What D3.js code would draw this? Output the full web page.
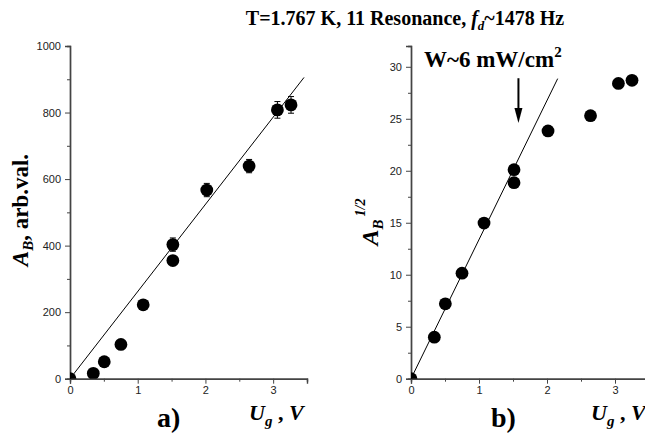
<!DOCTYPE html>
<html>
<head>
<meta charset="utf-8">
<script src="https://cdn.jsdelivr.net/npm/d3@7"></script>
<style>
  body { margin: 0; background: #fff; }
  svg { display: block; }
  .tick text { font-family: "Liberation Sans", Arial, sans-serif; font-size: 11px; fill: #222; }
  .serif { font-family: "Liberation Serif", "Times New Roman", serif; font-weight: bold; fill: #000; }
</style>
</head>
<body>
<svg id="chart" width="645" height="433"></svg>
<script>
// Panel a) : A_B vs U_g
const ugA = [0, 0.344, 0.506, 0.752, 1.081, 1.519, 1.519, 2.02, 2.645, 3.063, 3.264];
const abA = [0, 16, 51, 103, 222, 403, 355, 567, 639, 808, 823];
const errA = [5, 5, 5, 6, 8, 20, 10, 20, 20, 25, 25];
const fitA = { slope: 262, xEnd: 3.456 };

// Panel b) : A_B^(1/2) vs U_g
const ugB = [0, 0.343, 0.505, 0.75, 1.074, 1.515, 1.515, 2.015, 2.64, 3.05, 3.25];
const sqrtB = [0, 3.99, 7.2, 10.15, 14.97, 20.1, 18.85, 23.83, 25.3, 28.4, 28.7];
const fitB = { slope: 13.38, xEnd: 2.157 };
const arrowB = { x: 1.58, from: 28.9, to: 24.6 };

const xTicks = [0, 1, 2, 3];
const yTicksA = [0, 200, 400, 600, 800, 1000];
const yTicksB = [0, 5, 10, 15, 20, 25, 30];

const svg = d3.select('#chart');

function drawPanel(opts) {
    const x = d3.scaleLinear().domain([0, 3.5]).range(opts.xRange);
    const y = d3.scaleLinear().domain(opts.yDomain).range([378.7, 46]);
    const g = svg.append('g');

    // clip marks to the plot box
    const clipId = 'clip-' + opts.name;
    svg.append('clipPath').attr('id', clipId)
        .append('rect')
        .attr('x', opts.xRange[0]).attr('y', 0)
        .attr('width', opts.xRange[1] - opts.xRange[0] + 10)
        .attr('height', 378.7);

    // minor ticks
    const xAxisMinor = d3.axisBottom(x).tickValues(d3.range(0.5, 3.6, 1)).tickSize(3).tickFormat('');
    const yAxisMinor = d3.axisLeft(y).tickValues(opts.yMinor).tickSize(3).tickFormat('');
    g.append('g').attr('transform', 'translate(0,378.7)').call(xAxisMinor);
    g.append('g').attr('transform', `translate(${opts.xRange[0]},0)`).call(yAxisMinor);

    // major axes
    const xAxis = d3.axisBottom(x).tickValues(xTicks).tickSize(5).tickPadding(3).tickFormat(d3.format('d'));
    const yAxis = d3.axisLeft(y).tickValues(opts.yTicks).tickSize(5).tickPadding(4).tickFormat(d3.format('d'));
    g.append('g').attr('transform', 'translate(0,378.7)').call(xAxis);
    g.append('g').attr('transform', `translate(${opts.xRange[0]},0)`).call(yAxis);

    g.selectAll('.domain').attr('stroke', '#444').attr('stroke-width', 1.4);
    g.selectAll('.tick line').attr('stroke', '#444').attr('stroke-width', 1);

    const marks = g.append('g').attr('clip-path', `url(#${clipId})`);

    // fit line
    marks.append('line')
        .attr('x1', x(0)).attr('y1', y(0))
        .attr('x2', x(opts.fit.xEnd)).attr('y2', y(opts.fit.slope * opts.fit.xEnd))
        .attr('stroke', '#000').attr('stroke-width', 1);

    // error bars
    if (opts.err) {
        opts.xs.forEach((xv, i) => {
            const e = opts.err[i];
            const cx = x(xv);
            marks.append('line')
                .attr('x1', cx).attr('x2', cx)
                .attr('y1', y(opts.ys[i] - e)).attr('y2', y(opts.ys[i] + e))
                .attr('stroke', '#000').attr('stroke-width', 1);
            [opts.ys[i] - e, opts.ys[i] + e].forEach(v => {
                marks.append('line')
                    .attr('x1', cx - 3).attr('x2', cx + 3)
                    .attr('y1', y(v)).attr('y2', y(v))
                    .attr('stroke', '#000').attr('stroke-width', 1);
            });
        });
    }

    // points
    marks.selectAll('circle')
        .data(opts.xs.map((xv, i) => [xv, opts.ys[i]]))
        .enter()
        .append('circle')
        .attr('cx', d => x(d[0]))
        .attr('cy', d => y(d[1]))
        .attr('r', 6.4)
        .attr('fill', '#000');

    // x label "U_g , V"
    const xl = svg.append('text').attr('class', 'serif')
        .attr('x', x(3.5) - 58).attr('y', 420)
        .attr('font-size', 22);
    xl.append('tspan').attr('font-style', 'italic').text('U');
    xl.append('tspan').attr('font-style', 'italic').attr('font-size', 15).attr('dy', 6).text('g');
    xl.append('tspan').attr('dy', -6).text(' , ');
    xl.append('tspan').attr('font-style', 'italic').text('V');

    // panel letter
    svg.append('text').attr('class', 'serif')
        .attr('x', opts.letterX).attr('y', 427)
        .attr('font-size', 28)
        .text(opts.letter);

    return { x, y, g };
}

// panel a
drawPanel({
    name: 'a', xRange: [70, 307], yDomain: [0, 1000],
    yTicks: yTicksA, yMinor: d3.range(100, 1000, 200),
    xs: ugA, ys: abA, err: errA, fit: fitA,
    letter: 'a)', letterX: 157
});

// panel b
const pb = drawPanel({
    name: 'b', xRange: [411, 649], yDomain: [0, 32],
    yTicks: yTicksB, yMinor: d3.range(2.5, 32, 5),
    xs: ugB, ys: sqrtB, err: null, fit: fitB,
    letter: 'b)', letterX: 491
});

// arrow on panel b
const ax = pb.x(arrowB.x);
svg.append('line')
    .attr('x1', ax).attr('x2', ax)
    .attr('y1', pb.y(arrowB.from)).attr('y2', pb.y(arrowB.to) - 12)
    .attr('stroke', '#000').attr('stroke-width', 2);
svg.append('path')
    .attr('d', `M${ax - 4},${pb.y(arrowB.to) - 15} L${ax + 4},${pb.y(arrowB.to) - 15} L${ax},${pb.y(arrowB.to)} Z`)
    .attr('fill', '#000');

// "W~6 mW/cm2"
const wl = svg.append('text').attr('class', 'serif')
    .attr('x', 424).attr('y', 67).attr('font-size', 23);
wl.append('tspan').text('W~6 mW/cm');
wl.append('tspan').attr('font-size', 15).attr('dy', -10).text('2');

// left y label "A_B, arb.val."
const yla = svg.append('text').attr('class', 'serif')
    .attr('transform', 'translate(28,210) rotate(-90)')
    .attr('text-anchor', 'middle').attr('font-size', 23);
yla.append('tspan').attr('font-style', 'italic').text('A');
yla.append('tspan').attr('font-style', 'italic').attr('font-size', 15).attr('dy', 5).text('B');
yla.append('tspan').attr('dy', -5).text(', arb.val.');

// right y label "A_B^1/2"
const ylb = svg.append('text').attr('class', 'serif')
    .attr('transform', 'translate(378,222) rotate(-90)')
    .attr('text-anchor', 'middle').attr('font-size', 24);
ylb.append('tspan').attr('font-style', 'italic').text('A');
ylb.append('tspan').attr('font-style', 'italic').attr('font-size', 15).attr('dy', 5).text('B');
ylb.append('tspan').attr('font-style', 'italic').attr('font-size', 14).attr('dx', 3).attr('dy', -18).text('1/2');

// title
const tt = svg.append('text').attr('class', 'serif')
    .attr('x', 405).attr('y', 25).attr('text-anchor', 'middle')
    .attr('font-size', 20);
tt.append('tspan').text('T=1.767 K, 11 Resonance,  ');
tt.append('tspan').attr('font-style', 'italic').text('f');
tt.append('tspan').attr('font-style', 'italic').attr('font-size', 13).attr('dy', 5).text('d');
tt.append('tspan').attr('dy', -5).text('~1478 Hz');
</script>
</body>
</html>
